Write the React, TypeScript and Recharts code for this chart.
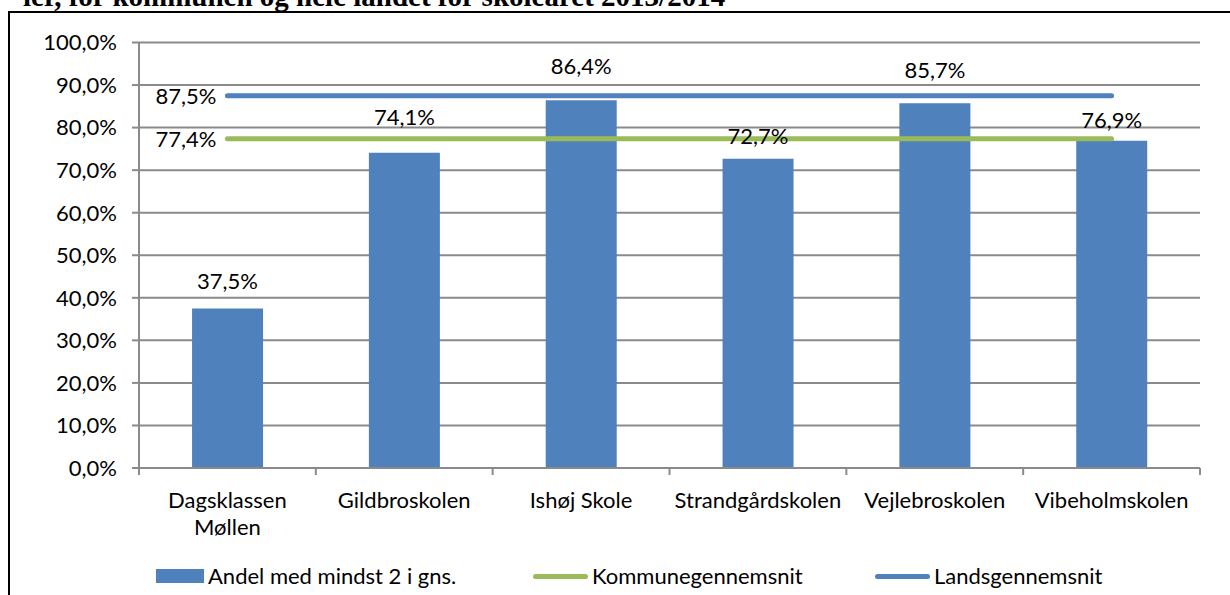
import React from 'react';
import { ComposedChart, Bar, Line, XAxis, YAxis, CartesianGrid, Legend, LabelList } from 'recharts';

const schools = ['Dagsklassen Møllen', 'Gildbroskolen', 'Ishøj Skole', 'Strandgårdskolen', 'Vejlebroskolen', 'Vibeholmskolen'];
const andel = [37.5, 74.1, 86.4, 72.7, 85.7, 76.9];
const kommuneSnit = [77.4, 77.4, 77.4, 77.4, 77.4, 77.4];
const landsSnit = [87.5, 87.5, 87.5, 87.5, 87.5, 87.5];
const yTicks = [0, 10, 20, 30, 40, 50, 60, 70, 80, 90, 100];

const data = schools.map((name, i) => ({
  name,
  andel: andel[i],
  kommune: kommuneSnit[i],
  lands: landsSnit[i],
}));

const BLUE = '#4F81BD';
const GREEN = '#9BBB59';
const GRID = '#8a8a8a';
const FONT = 'Lato, "Noto Sans", sans-serif';
const FS = 22;

// plot box in page pixels
const PLOT_LEFT = 139;
const PLOT_RIGHT = 1200;
const band = (PLOT_RIGHT - PLOT_LEFT) / schools.length;

// Excel nudged each bar label by hand
const barLabelLift = [19, 28, 26, 15, 25, 13];

const pct = (v: number) => v.toFixed(1).replace('.', ',') + '%';

const SchoolTick = (props: any) => {
  const { x, y, payload, index } = props;
  const label: string = String(payload.value);
  const lines = label.length > 16 ? label.split(' ') : [label];
  return (
    <g>
      <line x1={x - band / 2} x2={x - band / 2} y1={y} y2={y + 7} stroke={GRID} strokeWidth={2} />
      {index === schools.length - 1 && (
        <line x1={x + band / 2} x2={x + band / 2} y1={y} y2={y + 7} stroke={GRID} strokeWidth={2} />
      )}
      {lines.map((ln, i) => (
        <text key={i} x={x} y={y + 40 + i * 27} textAnchor="middle" fill="#000" fontSize={FS} fontFamily={FONT}>
          {ln}
        </text>
      ))}
    </g>
  );
};

const BarValueLabel = (props: any) => {
  const { x, y, width, value, index } = props;
  const lift = barLabelLift[index] ?? 20;
  return (
    <text x={x + width / 2} y={y - lift} textAnchor="middle" fill="#000" fontSize={FS} fontFamily={FONT}>
      {pct(value)}
    </text>
  );
};

const FirstPointLabel = (props: any) => {
  const { x, y, value, index } = props;
  if (index !== 0) return null;
  return (
    <text x={x - 11} y={y + 8} textAnchor="end" fill="#000" fontSize={FS} fontFamily={FONT}>
      {pct(value)}
    </text>
  );
};

const legendItems = [
  { key: 'andel', label: 'Andel med mindst 2 i gns.', left: 156, kind: 'rect', color: BLUE },
  { key: 'kommune', label: 'Kommunegennemsnit', left: 533, kind: 'line', color: GREEN },
  { key: 'lands', label: 'Landsgennemsnit', left: 875, kind: 'line', color: BLUE },
];

const ChartLegend = () => (
  <div style={{ position: 'relative', width: 1230, height: 30, fontFamily: FONT, fontSize: FS, color: '#000' }}>
    {legendItems.map((it) => (
      <div key={it.key} style={{ position: 'absolute', left: it.left, top: 0, height: 30, display: 'flex', alignItems: 'center', whiteSpace: 'nowrap' }}>
        {it.kind === 'rect' ? (
          <span style={{ display: 'inline-block', width: 48, height: 14, background: it.color }} />
        ) : (
          <span style={{ display: 'inline-block', width: 55, height: 5, borderRadius: 3, background: it.color }} />
        )}
        <span style={{ marginLeft: 4, lineHeight: '30px' }}>{it.label}</span>
      </div>
    ))}
  </div>
);

export default function App() {
  return (
    <div style={{ position: 'absolute', left: 0, top: 0, width: 1230, height: 595, overflow: 'hidden', background: '#fff', fontFamily: FONT }}>
      <svg style={{ position: 'absolute', left: 0, top: 0 }} width={1230} height={20}>
        <text x={23} y={6} fontFamily='"Liberation Serif", "Times New Roman", serif' fontWeight="bold" fontSize={29} fill="#000">
          ler, for kommunen og hele landet for skoleåret 2013/2014
        </text>
      </svg>
      <div style={{ position: 'absolute', left: 8, top: 11, width: 1300, height: 700, border: '2px solid #000', boxSizing: 'border-box' }} />
      <div style={{ position: 'absolute', left: 0, top: 0 }}>
        <ComposedChart
          width={1230}
          height={595}
          data={data}
          margin={{ top: 42.5, right: 1230 - PLOT_RIGHT, bottom: 67, left: PLOT_LEFT - 80 }}
          barCategoryGap="30%"
        >
          <CartesianGrid vertical={false} stroke={GRID} strokeWidth={2} />
          <XAxis
            dataKey="name"
            height={60}
            axisLine={{ stroke: GRID, strokeWidth: 2 }}
            tickLine={false}
            tickSize={0}
            tickMargin={0}
            interval={0}
            tick={<SchoolTick />}
          />
          <YAxis
            width={80}
            domain={[0, 100]}
            ticks={yTicks}
            interval={0}
            tickFormatter={pct}
            axisLine={{ stroke: GRID, strokeWidth: 2 }}
            tickLine={{ stroke: GRID, strokeWidth: 2 }}
            tickSize={7}
            tickMargin={15}
            tick={{ fill: '#000', fontSize: FS, fontFamily: FONT }}
          />
          <Legend
            verticalAlign="middle"
            align="center"
            layout="horizontal"
            content={<ChartLegend />}
            wrapperStyle={{ top: 561, left: 0, width: 1230, height: 30 }}
          />
          <Bar dataKey="andel" name="Andel med mindst 2 i gns." fill={BLUE} isAnimationActive={false}>
            <LabelList dataKey="andel" content={<BarValueLabel />} />
          </Bar>
          <Line
            dataKey="kommune"
            name="Kommunegennemsnit"
            stroke={GREEN}
            strokeWidth={5}
            strokeLinecap="round"
            dot={false}
            activeDot={false}
            isAnimationActive={false}
          >
            <LabelList dataKey="kommune" content={<FirstPointLabel />} />
          </Line>
          <Line
            dataKey="lands"
            name="Landsgennemsnit"
            stroke={BLUE}
            strokeWidth={5}
            strokeLinecap="round"
            dot={false}
            activeDot={false}
            isAnimationActive={false}
          >
            <LabelList dataKey="lands" content={<FirstPointLabel />} />
          </Line>
        </ComposedChart>
      </div>
    </div>
  );
}
